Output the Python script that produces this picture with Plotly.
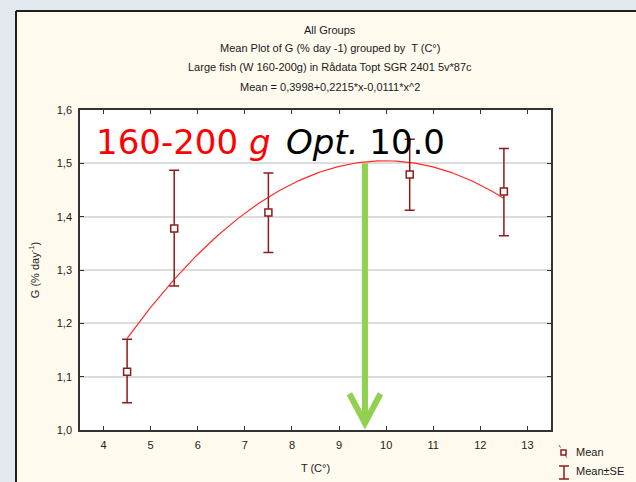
import numpy as np
import plotly.graph_objects as go

# ---- data ----
temps = [4.5, 5.5, 7.5, 10.5, 12.5]
mean_g = [1.109, 1.378, 1.408, 1.479, 1.447]
se_upper = [1.170, 1.487, 1.482, 1.545, 1.528]
se_lower = [1.051, 1.270, 1.333, 1.412, 1.364]
fit_coef = [0.3998, 0.2215, -0.0111]   # Mean = a + b*x + c*x^2 (printed on chart)
opt_temp = 9.55                         # green arrow position
x_ticks = [4, 5, 6, 7, 8, 9, 10, 11, 12, 13]
y_ticks = [1.0, 1.1, 1.2, 1.3, 1.4, 1.5, 1.6]
y_tick_text = ["1,0", "1,1", "1,2", "1,3", "1,4", "1,5", "1,6"]
title_lines = [
    "All Groups",
    "Mean Plot of G (% day -1) grouped by  T (C°)",
    "Large fish (W 160-200g) in Rådata Topt SGR 2401 5v*87c",
    "Mean = 0,3998+0,2215*x-0,0111*x^2",
]

W, H = 636, 482
L, R, T, B = 80, 85, 110, 52
PW, PH = W - L - R, H - T - B

def px(xp):
    return (xp - L) / PW

def py(yp):
    return (H - B - yp) / PH

DARKRED = "#8E1B1B"
CREAM = "#FFFAEE"
OUTSIDE = "#E4E9EF"
GREEN = "#92D050"

fig = go.Figure()

# fitted curve
xs = np.linspace(min(temps), max(temps), 200)
ys = fit_coef[0] + fit_coef[1] * xs + fit_coef[2] * xs ** 2
fig.add_trace(go.Scatter(x=xs, y=ys, mode="lines",
                         line=dict(color="#FF2A2A", width=1.2),
                         hoverinfo="skip", showlegend=False))

# means with SE bars
fig.add_trace(go.Scatter(
    x=temps, y=mean_g, mode="markers",
    marker=dict(symbol="square", size=7, color="white",
                line=dict(color=DARKRED, width=1.5)),
    error_y=dict(type="data", symmetric=False,
                 array=[u - m for u, m in zip(se_upper, mean_g)],
                 arrayminus=[m - l for m, l in zip(mean_g, se_lower)],
                 color=DARKRED, thickness=1.5, width=5),
    showlegend=False))

shapes = []
# outside background strips and panel border
shapes.append(dict(type="rect", xref="paper", yref="paper", x0=px(-5), x1=px(16),
                   y0=py(H + 5), y1=py(-5), fillcolor=OUTSIDE, line=dict(width=0), layer="below"))
shapes.append(dict(type="rect", xref="paper", yref="paper", x0=px(-5), x1=px(W + 5),
                   y0=py(11), y1=py(-5), fillcolor=OUTSIDE, line=dict(width=0), layer="below"))
shapes.append(dict(type="line", xref="paper", yref="paper", x0=px(16), x1=px(16),
                   y0=py(11), y1=py(H + 5), line=dict(color="#1E1E1E", width=2)))
shapes.append(dict(type="line", xref="paper", yref="paper", x0=px(16), x1=px(W + 5),
                   y0=py(11), y1=py(11), line=dict(color="#1E1E1E", width=2)))

# green arrow
peak_y = 1.5
tip_y = 1.013
shapes.append(dict(type="line", xref="x", yref="y", x0=opt_temp, x1=opt_temp,
                   y0=peak_y, y1=tip_y + 0.01, line=dict(color=GREEN, width=6)))
shapes.append(dict(type="path", xref="x", yref="y",
                   path=f"M {opt_temp - 0.33} 1.068 L {opt_temp} {tip_y} L {opt_temp + 0.33} 1.068",
                   line=dict(color=GREEN, width=6)))

# legend symbols
shapes.append(dict(type="line", xref="paper", yref="paper", x0=px(559), x1=px(567),
                   y0=py(445), y1=py(458), line=dict(color="#FF2A2A", width=1, dash="dot")))
shapes.append(dict(type="rect", xref="paper", yref="paper", x0=px(561), x1=px(566),
                   y0=py(455), y1=py(450), fillcolor="white", line=dict(color=DARKRED, width=1.5)))
shapes.append(dict(type="line", xref="paper", yref="paper", x0=px(564), x1=px(564),
                   y0=py(466), y1=py(479), line=dict(color=DARKRED, width=1.5)))
shapes.append(dict(type="line", xref="paper", yref="paper", x0=px(559), x1=px(569),
                   y0=py(466), y1=py(466), line=dict(color=DARKRED, width=1.5)))
shapes.append(dict(type="line", xref="paper", yref="paper", x0=px(559), x1=px(569),
                   y0=py(479), y1=py(479), line=dict(color=DARKRED, width=1.5)))

annotations = []
title_y = [30, 48, 67, 87]
for txt, yy in zip(title_lines, title_y):
    annotations.append(dict(text=txt, xref="paper", yref="paper", x=px(330), y=py(yy),
                            xanchor="center", yanchor="middle", showarrow=False,
                            font=dict(family="Liberation Sans, Arial", size=11, color="#1A1A1A")))

annotations.append(dict(text="Mean", xref="paper", yref="paper", x=px(574), y=py(452),
                        xanchor="left", yanchor="middle", showarrow=False,
                        font=dict(family="Liberation Sans, Arial", size=11, color="#1A1A1A")))
annotations.append(dict(text="Mean±SE", xref="paper", yref="paper", x=px(574), y=py(471),
                        xanchor="left", yanchor="middle", showarrow=False,
                        font=dict(family="Liberation Sans, Arial", size=11, color="#1A1A1A")))

annotations.append(dict(text="160-200 <i>g</i>", xref="paper", yref="paper", x=px(94), y=py(142),
                        xanchor="left", yanchor="middle", showarrow=False,
                        font=dict(family="Comic Sans MS, DejaVu Sans", size=34, color="#FF0000")))
annotations.append(dict(text="<i>Opt.</i> 10.0", xref="paper", yref="paper", x=px(284), y=py(142),
                        xanchor="left", yanchor="middle", showarrow=False,
                        font=dict(family="Comic Sans MS, DejaVu Sans", size=34, color="#000000")))

fig.update_layout(
    width=W, height=H,
    margin=dict(l=L, r=R, t=T, b=B),
    paper_bgcolor=CREAM, plot_bgcolor="white",
    shapes=shapes, annotations=annotations,
    showlegend=False,
    font=dict(family="Liberation Sans, Arial", size=11, color="#222"),
)
fig.update_xaxes(range=[3.5, 13.5], tickvals=x_ticks, showgrid=False, zeroline=False,
                 automargin=False,
                 showline=True, linecolor="#333", linewidth=1.5, mirror="ticks",
                 ticks="inside", ticklen=4, tickcolor="#333", ticklabelstandoff=4,
                 title=dict(text="T (C°)", standoff=14, font=dict(size=11)))
fig.update_yaxes(range=[1.0, 1.6], tickvals=y_ticks, ticktext=y_tick_text,
                 automargin=False,
                 showgrid=True, gridcolor="#DCDCDC", gridwidth=1.5, zeroline=False,
                 showline=True, linecolor="#333", linewidth=1.5, mirror="ticks",
                 ticks="inside", ticklen=4, tickcolor="#333", ticklabelstandoff=4,
                 title=dict(text="G (% day<sup>-1</sup>)", standoff=15, font=dict(size=11)))

fig.write_html("out.html", config={"displayModeBar": False},
               post_script="document.body.style.margin='0';")
